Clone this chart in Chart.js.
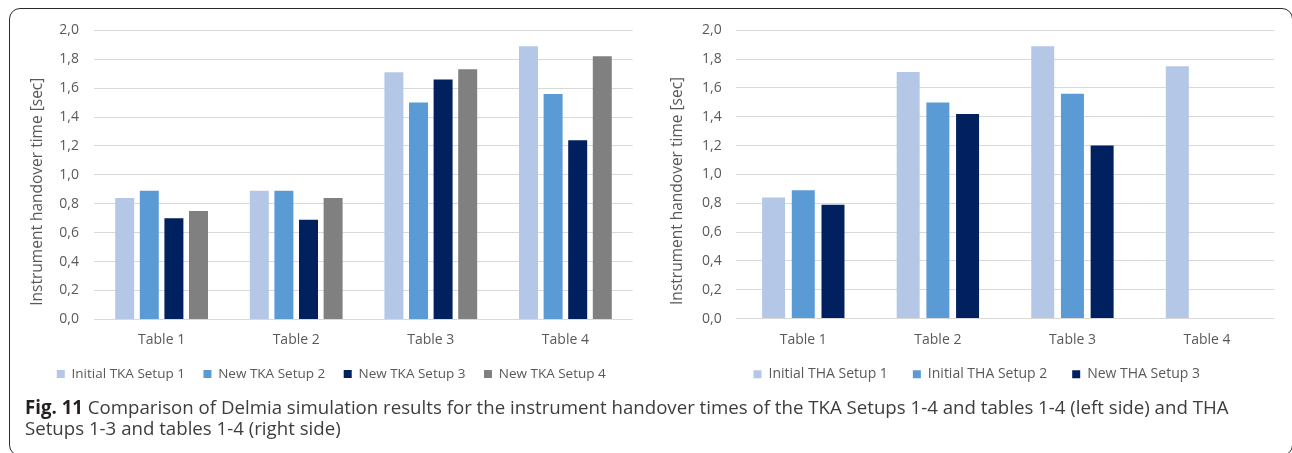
<!DOCTYPE html>
<html>
<head>
<meta charset="utf-8">
<script src="https://cdn.jsdelivr.net/npm/chart.js@4.4.1/dist/chart.umd.min.js"></script>
<style>
  html, body { margin: 0; padding: 0; background: #fff; }
  #page { position: relative; width: 1292px; height: 453px; overflow: hidden; background: #fff; }
  #frame {
    position: absolute; left: 8.5px; top: 7.5px; width: 1284px; height: 448px;
    border: 1.6px solid #2b2b2b; border-radius: 11px; box-sizing: border-box;
  }
  canvas { position: absolute; top: 0; }
  #caption {
    position: absolute; left: 25px; top: 396px;
    font-family: 'Open Sans', sans-serif; color: #3d3d3d; line-height: 21.6px;
    white-space: nowrap;
  }
  #caption b { color: #231f20; font-weight: 700; }
  #cap1 { display: inline-block; }
</style>
</head>
<body>
<div id="page">
  <div id="frame"></div>
  <canvas id="tka" width="645" height="453" style="left:0"></canvas>
  <canvas id="tha" width="647" height="453" style="left:645px"></canvas>
  <div id="caption">
    <div><span id="cap1"><b>Fig. 11</b> Comparison of Delmia simulation results for the instrument handover times of the TKA Setups 1-4 and tables 1-4 (left side) and THA</span></div>
    <div>Setups 1-3 and tables 1-4 (right side)</div>
  </div>
</div>
<script>
// Categories and tick labels
const categories = ['Table 1', 'Table 2', 'Table 3', 'Table 4'];
const yTickLabels = ['0,0', '0,2', '0,4', '0,6', '0,8', '1,0', '1,2', '1,4', '1,6', '1,8', '2,0'];

// TKA setups (seconds)
const tkaLabels = ['Initial TKA Setup 1', 'New TKA Setup 2', 'New TKA Setup 3', 'New TKA Setup 4'];
const tkaSetup1 = [0.84, 0.89, 1.71, 1.89];
const tkaSetup2 = [0.89, 0.89, 1.50, 1.56];
const tkaSetup3 = [0.70, 0.69, 1.66, 1.24];
const tkaSetup4 = [0.75, 0.84, 1.73, 1.82];

// THA setups (seconds)
const thaLabels = ['Initial THA Setup 1', 'Initial THA Setup 2', 'New THA Setup 3'];
const thaSetup1 = [0.84, 1.71, 1.89, 1.75];
const thaSetup2 = [0.89, 1.50, 1.56, null];
const thaSetup3 = [0.79, 1.42, 1.20, null];

const palette = ['#B4C7E7', '#5B9BD5', '#002060', '#808080'];
const INK = '#595959';
const GRID = '#D9D9D9';

Chart.defaults.font.family = "'Open Sans', sans-serif";

// Places the legend block at a fixed spot under the plot
const legendPlacer = {
  id: 'legendPlacer',
  afterUpdate(chart, args, opts) {
    const lg = chart.legend;
    if (!lg) return;
    const h = lg.bottom - lg.top;
    lg.left = opts.left;
    lg.right = opts.left + 2000;
    lg.top = opts.top;
    lg.bottom = opts.top + h;
  }
};

// Rotated value-axis title
const axisCaption = {
  id: 'axisCaption',
  afterDraw(chart, args, o) {
    const ctx = chart.ctx;
    ctx.save();
    ctx.translate(o.x, o.y);
    ctx.rotate(-Math.PI / 2);
    ctx.font = o.font;
    ctx.fillStyle = o.color;
    ctx.textAlign = 'center';
    ctx.textBaseline = 'middle';
    ctx.fillText(o.text, 0, 0);
    ctx.restore();
  }
};

function makeChart(id, labels, series, o) {
  return new Chart(document.getElementById(id), {
    type: 'bar',
    data: {
      labels: categories,
      datasets: series.map((d, i) => ({
        label: labels[i],
        data: d,
        backgroundColor: palette[i],
        borderWidth: 0,
        categoryPercentage: o.cat,
        barPercentage: o.bar
      }))
    },
    options: {
      responsive: false,
      animation: false,
      devicePixelRatio: 1,
      layout: { padding: { left: 0, right: o.padRight, top: 30.3, bottom: o.padBottom } },
      scales: {
        x: {
          grid: { display: false },
          border: { display: false },
          ticks: { color: INK, font: { size: 14 }, padding: 4.6 },
          afterFit(s) { s.height = 40; }
        },
        y: {
          min: 0, max: 2,
          ticks: { stepSize: 0.2, color: INK, font: { size: 14 }, padding: o.tickPad,
                   callback: (v, i) => yTickLabels[i] },
          grid: { color: GRID, lineWidth: 1, drawTicks: false },
          border: { display: false },
          afterFit(s) { s.width = o.axisWidth; }
        }
      },
      plugins: {
        legend: {
          position: 'bottom', align: 'start',
          labels: { boxWidth: 8, boxHeight: 8, padding: o.legendPad, color: INK, font: { size: o.legendSize } }
        },
        legendPlacer: { left: o.legendLeft, top: o.legendTop },
        axisCaption: { text: 'Instrument handover time [sec]', x: o.titleX, y: o.titleY,
                       font: "15.5px 'Open Sans', sans-serif", color: INK },
        tooltip: { enabled: false }
      }
    },
    plugins: [legendPlacer, axisCaption]
  });
}

makeChart('tka', tkaLabels, [tkaSetup1, tkaSetup2, tkaSetup3, tkaSetup4], {
  cat: 0.731, bar: 0.772, padRight: 12.3, padBottom: 51.6, axisWidth: 94.3, tickPad: 15.3,
  legendPad: 18.5, legendSize: 13.5, legendLeft: 38.3, legendTop: 348.8, titleX: 37.5, titleY: 191.7
});

makeChart('tha', thaLabels, [thaSetup1, thaSetup2, thaSetup3], {
  cat: 0.662, bar: 0.774, padRight: 17.7, padBottom: 45.4, axisWidth: 91, tickPad: 14.3,
  legendPad: 25, legendSize: 14, legendLeft: 83.5, legendTop: 342.3, titleX: 32.5, titleY: 190.9
});

// Caption sizing: first line runs to the right end of the figure text block
(function fitCaption() {
  const cap = document.getElementById('caption');
  const line = document.getElementById('cap1');
  let fs = 18;
  cap.style.fontSize = fs + 'px';
  const w = line.getBoundingClientRect().width;
  fs = fs * 1205 / w;
  cap.style.fontSize = fs + 'px';
  cap.style.top = (413.7 - (10.8 + 0.388 * fs)) + 'px';
})();
</script>
</body>
</html>
